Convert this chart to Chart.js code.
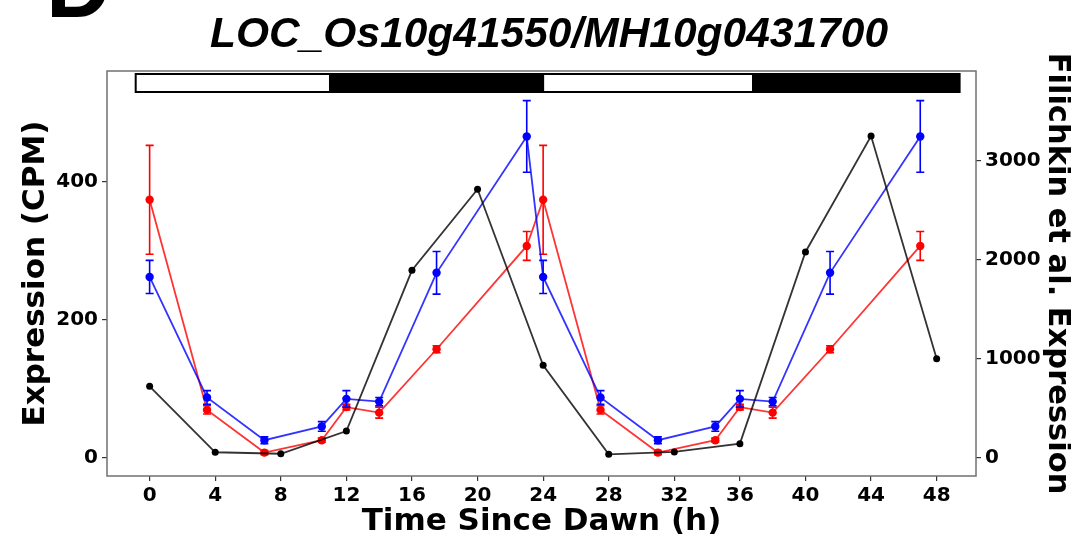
<!DOCTYPE html>
<html>
<head>
<meta charset="utf-8">
<script src="https://cdn.jsdelivr.net/npm/chart.js@4.4.1/dist/chart.umd.min.js"></script>
<style>
  html, body { margin: 0; padding: 0; background: #fff; }
  #wrap { width: 1071px; height: 536px; }
</style>
</head>
<body>
<div id="wrap"><canvas id="chart" width="1071" height="536"></canvas></div>
<script>
// Expression (CPM), two 24 h cycles
const cpmTimes = [0, 3.5, 7, 10.5, 12, 14, 17.5, 23, 24, 27.5, 31, 34.5, 36, 38, 41.5, 47];
const redMean = [374, 69, 7, 25, 73, 65, 157, 307, 374, 69, 7, 25, 73, 65, 157, 307];
const redErr = [79, 6, 3, 3, 4, 8, 5, 21, 79, 6, 3, 3, 4, 8, 5, 21];
const blueMean = [262, 87, 25, 45, 85, 81, 268, 466, 262, 87, 25, 45, 85, 81, 268, 466];
const blueErr = [24, 10, 5, 7, 12, 6, 31, 52, 24, 10, 5, 7, 12, 6, 31, 52];

// Filichkin et al. series (right axis)
const filTimes = [0, 4, 8, 12, 16, 20, 24, 28, 32, 36, 40, 44, 48];
const filValues = [720, 53, 38, 268, 1893, 2712, 932, 32, 56, 140, 2078, 3251, 999];

// light / dark bar along the top
const ldStart = [-0.85, 11, 24, 36.8];
const ldEnd = [11, 24, 36.8, 49.4];
const ldDark = [false, true, false, true];

// tick labels
const xTicks = [0, 4, 8, 12, 16, 20, 24, 28, 32, 36, 40, 44, 48];
const leftTicks = [0, 200, 400];
const rightTicks = [0, 1000, 2000, 3000];

const titleText = 'LOC_Os10g41550/MH10g0431700';
const rightTitle = 'Filichkin et al. Expression';

const tickFont = { family: "'DejaVu Sans', sans-serif", weight: 'bold', size: 20 };
const tickGrid = { display: true, drawOnChartArea: false, drawTicks: true, tickLength: 5, color: '#333', lineWidth: 1.2 };

function pts(xs, ys) {
  return xs.map((x, i) => ({ x: x, y: ys[i] }));
}

// error bars drawn right after their own dataset
const errorBars = {
  id: 'errorBars',
  afterDatasetDraw(chart, args) {
    const ds = chart.data.datasets[args.index];
    if (!ds.errors) return;
    const ctx = chart.ctx;
    const xs = chart.scales.x, ys = chart.scales.y;
    ctx.save();
    ctx.strokeStyle = ds.pointBackgroundColor;
    ctx.lineWidth = 1.6;
    ds.data.forEach((p, i) => {
      const e = ds.errors[i];
      const px = xs.getPixelForValue(p.x);
      const top = ys.getPixelForValue(p.y + e);
      const bot = ys.getPixelForValue(p.y - e);
      ctx.beginPath();
      ctx.moveTo(px, top); ctx.lineTo(px, bot);
      ctx.moveTo(px - 4, top); ctx.lineTo(px + 4, top);
      ctx.moveTo(px - 4, bot); ctx.lineTo(px + 4, bot);
      ctx.stroke();
    });
    ctx.restore();
  }
};

// frame, light/dark bar, titles, panel letter
const decorations = {
  id: 'decorations',
  beforeDatasetsDraw(chart) {
    const { ctx, chartArea: a, scales } = chart;
    ctx.save();
    ctx.strokeStyle = '#707070';
    ctx.lineWidth = 1.5;
    ctx.strokeRect(a.left, a.top, a.right - a.left, a.bottom - a.top);

    ctx.lineWidth = 2;
    ctx.strokeStyle = '#000';
    ldStart.forEach((s, i) => {
      const x0 = scales.x.getPixelForValue(s);
      const x1 = scales.x.getPixelForValue(ldEnd[i]);
      ctx.fillStyle = ldDark[i] ? '#000' : '#fff';
      ctx.fillRect(x0, a.top + 3, x1 - x0, 18);
      ctx.strokeRect(x0, a.top + 3, x1 - x0, 18);
    });
    ctx.restore();
  },
  afterDraw(chart) {
    const { ctx, chartArea: a } = chart;
    ctx.save();
    ctx.fillStyle = '#000';
    ctx.font = "bold 90px 'Liberation Sans', Arial, sans-serif";
    ctx.textBaseline = 'alphabetic';
    ctx.fillText('D', 46, 17);

    ctx.font = "italic bold 42.5px 'Liberation Sans', Arial, sans-serif";
    ctx.textAlign = 'center';
    ctx.fillText(titleText, 549, 47);

    ctx.translate(1057, (a.top + a.bottom) / 2);
    ctx.rotate(Math.PI / 2);
    ctx.font = "bold 30.5px 'DejaVu Sans', sans-serif";
    ctx.textBaseline = 'middle';
    ctx.fillText(rightTitle, 0, 0);
    ctx.restore();
  }
};

new Chart(document.getElementById('chart'), {
  type: 'line',
  data: {
    datasets: [
      {
        label: 'Filichkin',
        data: pts(filTimes, filValues),
        yAxisID: 'y2',
        borderColor: 'rgba(0,0,0,0.8)',
        pointBackgroundColor: '#000',
        pointBorderWidth: 0,
        pointRadius: 3.5,
        borderWidth: 1.8,
        order: 0
      },
      {
        label: 'blue',
        data: pts(cpmTimes, blueMean),
        errors: blueErr,
        yAxisID: 'y',
        borderColor: 'rgba(0,0,255,0.8)',
        pointBackgroundColor: '#0000ff',
        pointBorderWidth: 0,
        pointRadius: 4.2,
        borderWidth: 1.8,
        order: 1
      },
      {
        label: 'red',
        data: pts(cpmTimes, redMean),
        errors: redErr,
        yAxisID: 'y',
        borderColor: 'rgba(255,0,0,0.8)',
        pointBackgroundColor: '#ff0000',
        pointBorderWidth: 0,
        pointRadius: 4.2,
        borderWidth: 1.8,
        order: 2
      }
    ]
  },
  options: {
    responsive: false,
    animation: false,
    devicePixelRatio: 1,
    layout: { padding: { top: 71, left: 0, right: 0, bottom: 0 } },
    plugins: {
      legend: { display: false },
      tooltip: { enabled: false },
      title: { display: false }
    },
    scales: {
      x: {
        type: 'linear',
        min: -2.6,
        max: 50.4,
        afterBuildTicks: s => { s.ticks = xTicks.map(v => ({ value: v })); },
        afterFit: s => { s.height = 60; },
        ticks: { font: tickFont, color: '#000', padding: 3, maxRotation: 0, callback: v => String(v) },
        grid: tickGrid,
        border: { display: false },
        title: {
          display: true,
          text: 'Time Since Dawn (h)',
          color: '#000',
          font: { family: "'DejaVu Sans', sans-serif", weight: 'bold', size: 31, lineHeight: 0.9 },
          padding: { top: 0, bottom: 0 }
        }
      },
      y: {
        type: 'linear',
        position: 'left',
        min: -27,
        max: 561,
        afterBuildTicks: s => { s.ticks = leftTicks.map(v => ({ value: v })); },
        afterFit: s => { s.width = 107; },
        ticks: { font: tickFont, color: '#000', padding: 4, callback: v => String(v) },
        grid: tickGrid,
        border: { display: false },
        title: {
          display: true,
          text: 'Expression (CPM)',
          color: '#000',
          font: { family: "'DejaVu Sans', sans-serif", weight: 'bold', size: 31, lineHeight: 1 },
          padding: { top: 20, bottom: 0 }
        }
      },
      y2: {
        type: 'linear',
        position: 'right',
        min: -187,
        max: 3908,
        afterBuildTicks: s => { s.ticks = rightTicks.map(v => ({ value: v })); },
        afterFit: s => { s.width = 95; },
        ticks: { font: tickFont, color: '#000', padding: 4, callback: v => String(v) },
        grid: tickGrid,
        border: { display: false }
      }
    }
  },
  plugins: [errorBars, decorations]
});
</script>
</body>
</html>
